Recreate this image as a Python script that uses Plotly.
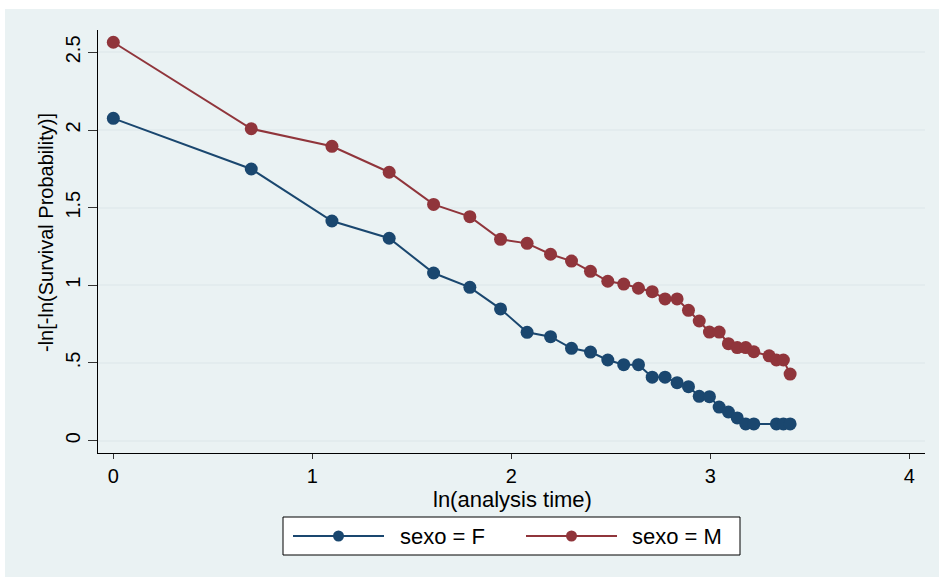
import numpy as np
import plotly.graph_objects as go

# Analysis times (days) at which each group has an estimate
time_f = [1, 2, 3, 4, 5, 6, 7, 8, 9, 10, 11, 12, 13, 14, 15, 16, 17, 18, 19, 20,
          21, 22, 23, 24, 25, 28, 29, 30]
loglog_f = [2.075, 1.749, 1.414, 1.303, 1.079, 0.987, 0.848, 0.697, 0.669, 0.594,
            0.570, 0.519, 0.489, 0.489, 0.408, 0.408, 0.373, 0.347, 0.285, 0.283,
            0.216, 0.184, 0.146, 0.107, 0.107, 0.107, 0.107, 0.107]

time_m = [1, 2, 3, 4, 5, 6, 7, 8, 9, 10, 11, 12, 13, 14, 15, 16, 17, 18, 19, 20,
          21, 22, 23, 24, 25, 27, 28, 29, 30]
loglog_m = [2.565, 2.008, 1.895, 1.728, 1.521, 1.442, 1.296, 1.270, 1.200, 1.156,
            1.090, 1.026, 1.008, 0.981, 0.959, 0.912, 0.912, 0.839, 0.770, 0.699,
            0.699, 0.624, 0.599, 0.599, 0.572, 0.546, 0.519, 0.519, 0.428]

x_ticks = [0, 1, 2, 3, 4]
y_ticks = [0, 0.5, 1, 1.5, 2, 2.5]
y_ticktext = ["0", ".5", "1", "1.5", "2", "2.5"]
group_labels = ["sexo = F", "sexo = M"]

NAVY = "#1A476F"
MAROON = "#90353B"
BG = "#EAF2F3"
GRID = "#E3ECEE"
FONT = "Liberation Sans, Arial, sans-serif"

W, H = 939, 577
ML, MR, MT, MB = 98, 14, 30, 124
PW, PH = W - ML - MR, H - MT - MB


def xp(px):
    return (px - ML) / PW


def yp(py):
    return (H - MB - py) / PH


fig = go.Figure()
for t, v, col, name in [(time_f, loglog_f, NAVY, group_labels[0]),
                        (time_m, loglog_m, MAROON, group_labels[1])]:
    fig.add_trace(go.Scatter(
        x=np.log(t), y=v, mode="lines+markers", name=name,
        line=dict(color=col, width=2),
        marker=dict(color=col, size=13),
        showlegend=False,
    ))

shapes = [
    # outer graph region
    dict(type="rect", xref="paper", yref="paper", layer="below",
         x0=xp(5), x1=xp(945), y0=yp(585), y1=yp(9),
         fillcolor=BG, line=dict(width=0)),
    # legend box
    dict(type="rect", xref="paper", yref="paper",
         x0=xp(283), x1=xp(740), y0=yp(555), y1=yp(517),
         fillcolor="white", line=dict(color="black", width=1)),
]
annotations = [
    dict(text="ln(analysis time)", xref="paper", yref="paper",
         x=xp(512), y=yp(499), showarrow=False, xanchor="center", yanchor="middle",
         font=dict(size=22, color="black", family=FONT)),
    dict(text="-ln[-ln(Survival Probability)]", xref="paper", yref="paper",
         x=xp(46), y=yp(233), showarrow=False, textangle=-90,
         xanchor="center", yanchor="middle",
         font=dict(size=20, color="black", family=FONT)),
]

# legend keys: line with a centred marker, then the label
for (lx0, lx1, tx), col, label in zip([(293, 384, 398), (526, 617, 630)],
                                      [NAVY, MAROON], group_labels):
    ly = yp(536)
    shapes.append(dict(type="line", xref="paper", yref="paper",
                       x0=xp(lx0), x1=xp(lx1), y0=ly, y1=ly,
                       line=dict(color=col, width=2)))
    cx = (lx0 + lx1) / 2
    shapes.append(dict(type="circle", xref="paper", yref="paper",
                       x0=xp(cx - 5.5), x1=xp(cx + 5.5),
                       y0=yp(536 + 5.5), y1=yp(536 - 5.5),
                       fillcolor=col, line=dict(color=col, width=0)))
    annotations.append(dict(text=label, xref="paper", yref="paper",
                            x=xp(tx), y=ly, showarrow=False,
                            xanchor="left", yanchor="middle",
                            font=dict(size=22, color="black", family=FONT)))

fig.update_layout(
    width=W, height=H,
    margin=dict(l=ML, r=MR, t=MT, b=MB, autoexpand=False),
    paper_bgcolor="white",
    plot_bgcolor="white",
    font=dict(family=FONT, size=20, color="black"),
    shapes=shapes,
    annotations=annotations,
    showlegend=False,
)
fig.update_xaxes(
    range=[-0.077, 4.079], tickvals=x_ticks, ticks="outside", ticklen=5,
    tickcolor="#333333", showgrid=False, zeroline=False,
    showline=True, linecolor="black", linewidth=1,
    tickfont=dict(size=20, family=FONT, color="black"),
)
fig.update_yaxes(
    range=[-0.080, 2.644], tickvals=y_ticks, ticktext=y_ticktext,
    ticks="outside", ticklen=9, tickcolor="#333333", tickangle=-90,
    showgrid=True, gridcolor=GRID, gridwidth=1.5, zeroline=False,
    showline=True, linecolor="black", linewidth=1,
    tickfont=dict(size=20, family=FONT, color="black"),
)

fig.write_html("out.html")
